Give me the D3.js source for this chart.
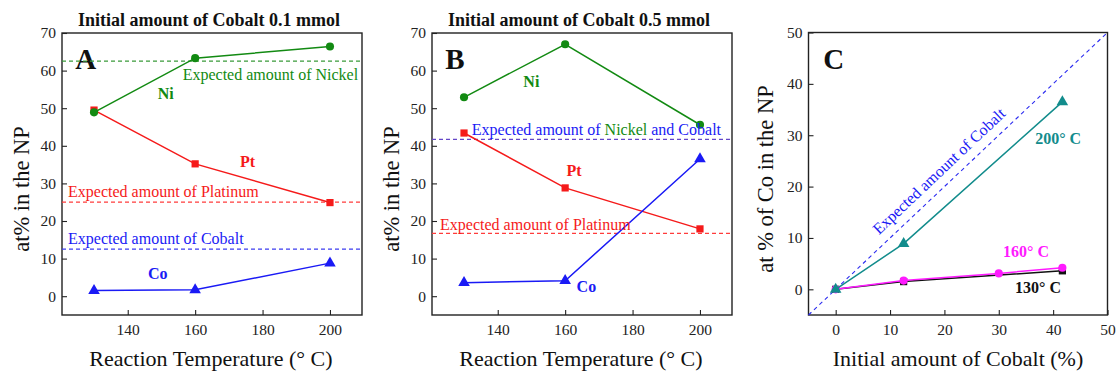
<!DOCTYPE html>
<html>
<head>
<meta charset="utf-8">
<script src="https://cdn.jsdelivr.net/npm/d3@7"></script>
<style>
  html, body { margin: 0; padding: 0; background: #fff; }
  svg { display: block; }
  svg text { font-family: "Liberation Serif", "Times New Roman", Times, "DejaVu Serif", serif; }
</style>
</head>
<body>
<svg id="chart" width="1116" height="372"></svg>
<script>
// Reaction temperatures (°C) for panels A and B
const temps = [130, 160, 200];

// Panel A: initial cobalt 0.1 mmol, composition (at%)
const niA = [48.9, 63.3, 66.4];
const ptA = [49.5, 35.2, 24.9];
const coA = [1.5, 1.7, 8.8];
const expNiA = 62.5, expPtA = 25, expCoA = 12.5;

// Panel B: initial cobalt 0.5 mmol, composition (at%)
const niB = [52.9, 67.0, 45.6];
const ptB = [43.4, 28.8, 17.9];
const coB = [3.6, 4.1, 36.5];
const expNiCoB = 41.7, expPtB = 16.7;

// Panel C: Co content vs initial cobalt fraction at each temperature
const init200 = [0, 12.5, 41.7];
const co200 = [0, 8.9, 36.5];
const init160 = [0, 12.5, 30, 41.7];
const co160 = [0, 1.7, 3.1, 4.2];
const init130 = [0, 12.5, 41.7];
const co130 = [0, 1.5, 3.6];

// Tick values
const tempMajor = [140, 160, 180, 200];
const tempMinor = [130, 150, 170, 190];
const atMajor = [0, 10, 20, 30, 40, 50, 60, 70];
const atMinor = [5, 15, 25, 35, 45, 55, 65];
const cMajor = [0, 10, 20, 30, 40, 50];
const cMinor = [5, 15, 25, 35, 45];

const GREEN = "#128a12", RED = "#f51a1a", BLUE = "#1a1af5",
      TEAL = "#128c8c", MAGENTA = "#ff1aff", BLACK = "#111";
const SERIF = '"Liberation Serif", "Times New Roman", Times, "DejaVu Serif", serif';

const svg = d3.select("#chart");

function axes(g, x, y, xMaj, xMin, yMaj, yMin) {
  const w = x.range()[1] - x.range()[0];
  const h = y.range()[0] - y.range()[1];
  const b = g.append("g").attr("transform", `translate(0,${y.range()[0]})`);
  b.call(d3.axisBottom(x).tickValues(xMin).tickSize(-3).tickFormat(""));
  b.call(d3.axisBottom(x).tickValues(xMaj).tickSize(-5).tickPadding(9).tickFormat(d3.format("d")));
  const l = g.append("g").attr("transform", `translate(${x.range()[0]},0)`);
  l.call(d3.axisLeft(y).tickValues(yMin).tickSize(-3).tickFormat(""));
  l.call(d3.axisLeft(y).tickValues(yMaj).tickSize(-5).tickPadding(6).tickFormat(d3.format("d")));
  g.selectAll(".domain").remove();
  g.selectAll("g").attr("font-family", SERIF);
  g.selectAll(".tick line").attr("stroke", "#222").attr("stroke-width", 1.1);
  g.selectAll(".tick text").attr("font-size", 15.5).attr("fill", "#222");
  g.append("rect").attr("x", x.range()[0]).attr("y", y.range()[1])
    .attr("width", w).attr("height", h)
    .attr("fill", "none").attr("stroke", "#222").attr("stroke-width", 1.4);
}

function series(g, x, y, xs, ys, color, shape) {
  const pts = xs.map((d, i) => [d, ys[i]]);
  g.append("path").datum(pts)
    .attr("d", d3.line().x(d => x(d[0])).y(d => y(d[1])))
    .attr("fill", "none").attr("stroke", color).attr("stroke-width", 1.5);
  const sym = shape === "circle" ? d3.symbolCircle : shape === "square" ? d3.symbolSquare : d3.symbolTriangle;
  const size = shape === "circle" ? 52 : shape === "square" ? 52 : 58;
  g.selectAll(null).data(pts).enter().append("path")
    .attr("d", d3.symbol().type(sym).size(size))
    .attr("transform", d => `translate(${x(d[0])},${y(d[1])})`)
    .attr("fill", color);
}

function hdash(g, x, y, v, color) {
  g.append("line")
    .attr("x1", x.range()[0]).attr("x2", x.range()[1])
    .attr("y1", y(v)).attr("y2", y(v))
    .attr("stroke", color).attr("stroke-width", 1.2).attr("stroke-dasharray", "4,3");
}

function label(g, x, y, xv, yv, text, color, size, bold, anchor) {
  return g.append("text").attr("x", x(xv)).attr("y", y(yv))
    .attr("font-family", SERIF)
    .attr("fill", color).attr("font-size", size)
    .attr("font-weight", bold ? "bold" : "normal")
    .attr("text-anchor", anchor || "start").text(text);
}

function yTitle(g, cx, cy, text) {
  g.append("text").attr("transform", `translate(${cx},${cy}) rotate(-90)`)
    .attr("font-family", SERIF)
    .attr("text-anchor", "middle").attr("font-size", 22.5).attr("fill", "#111").text(text);
}

function xTitle(g, cx, cy, text) {
  g.append("text").attr("x", cx).attr("y", cy)
    .attr("font-family", SERIF)
    .attr("text-anchor", "middle").attr("font-size", 22).attr("fill", "#111").text(text);
}

// ----- Panels A and B -----
function tempPanel(ox, title, letter) {
  const g = svg.append("g");
  const x = d3.scaleLinear().domain([120.5, 209.5]).range([ox + 62, ox + 362]);
  const y = d3.scaleLinear().domain([-5, 70]).range([315, 33]);
  axes(g, x, y, tempMajor, tempMinor, atMajor, atMinor);
  g.append("text").attr("x", ox + 209).attr("y", 26).attr("text-anchor", "middle")
    .attr("font-family", SERIF)
    .attr("font-size", 18).attr("font-weight", "bold").attr("fill", "#111").text(title);
  label(g, x, y, 124.4, 60.5, letter, "#111", 29, true);
  yTitle(g, ox + 28.5, 189, "at% in the NP");
  xTitle(g, ox + 211, 366, "Reaction Temperature (° C)");
  return { g, x, y };
}

const A = tempPanel(0, "Initial amount of Cobalt 0.1 mmol", "A");
hdash(A.g, A.x, A.y, expNiA, "#3a9a3a");
hdash(A.g, A.x, A.y, expPtA, "#ff3c3c");
hdash(A.g, A.x, A.y, expCoA, "#3c3cf0");
series(A.g, A.x, A.y, temps, ptA, RED, "square");
series(A.g, A.x, A.y, temps, niA, GREEN, "circle");
series(A.g, A.x, A.y, temps, coA, BLUE, "triangle");
label(A.g, A.x, A.y, 156.3, 57.6, "Expected amount of Nickel", GREEN, 16, false);
label(A.g, A.x, A.y, 148.9, 52.5, "Ni", GREEN, 16, true);
label(A.g, A.x, A.y, 173.3, 34.4, "Pt", RED, 16, true);
label(A.g, A.x, A.y, 122.3, 26.4, "Expected amount of Platinum", RED, 16, false);
label(A.g, A.x, A.y, 122.3, 13.9, "Expected amount of Cobalt", BLUE, 16, false);
label(A.g, A.x, A.y, 146, 4.6, "Co", BLUE, 16, true);

const B = tempPanel(370, "Initial amount of Cobalt 0.5 mmol", "B");
hdash(B.g, B.x, B.y, expNiCoB, "#6446c8");
hdash(B.g, B.x, B.y, expPtB, "#ff3c3c");
series(B.g, B.x, B.y, temps, niB, GREEN, "circle");
series(B.g, B.x, B.y, temps, ptB, RED, "square");
series(B.g, B.x, B.y, temps, coB, BLUE, "triangle");
label(B.g, B.x, B.y, 147.6, 55.7, "Ni", GREEN, 16, true);
const mix = label(B.g, B.x, B.y, 132.3, 42.9, "", BLUE, 16, false);
mix.append("tspan").attr("fill", BLUE).text("Expected amount of ");
mix.append("tspan").attr("fill", GREEN).text("Nickel");
mix.append("tspan").attr("fill", BLUE).text(" and Cobalt");
label(B.g, B.x, B.y, 160.4, 32.0, "Pt", RED, 16, true);
label(B.g, B.x, B.y, 122.9, 17.6, "Expected amount of Platinum", RED, 16, false);
label(B.g, B.x, B.y, 163.4, 1.1, "Co", BLUE, 16, true);

// ----- Panel C -----
const C = (() => {
  const g = svg.append("g");
  const x = d3.scaleLinear().domain([-5, 50]).range([808.5, 1107.5]);
  const y = d3.scaleLinear().domain([-5, 50]).range([315, 32.5]);
  axes(g, x, y, cMajor, cMinor, cMajor, cMinor);
  label(g, x, y, -2.3, 42.9, "C", "#111", 29, true);
  yTitle(g, 773, 179, "at % of Co in the NP");
  xTitle(g, 958, 366, "Initial amount of Cobalt (%)");
  return { g, x, y };
})();

// 1:1 line = expected cobalt content
C.g.append("line")
  .attr("x1", C.x(-5)).attr("y1", C.y(-5)).attr("x2", C.x(50)).attr("y2", C.y(50))
  .attr("stroke", "#2a2af0").attr("stroke-width", 1.1).attr("stroke-dasharray", "4,3.5");
const diagAngle = Math.atan2(C.y(0) - C.y(1), C.x(1) - C.x(0)) * 180 / Math.PI;
C.g.append("text")
  .attr("transform", `translate(${C.x(20.9)},${C.y(20.9)}) rotate(${-diagAngle})`)
  .attr("font-family", SERIF)
  .attr("dy", -9.5).attr("text-anchor", "middle")
  .attr("font-size", 16).attr("fill", BLUE).text("Expected amount of Cobalt");

series(C.g, C.x, C.y, init130, co130, BLACK, "square");
series(C.g, C.x, C.y, init160, co160, MAGENTA, "circle");
series(C.g, C.x, C.y, init200, co200, TEAL, "triangle");
label(C.g, C.x, C.y, 36.7, 28.3, "200° C", TEAL, 16, true);
label(C.g, C.x, C.y, 30.8, 6.3, "160° C", MAGENTA, 16, true);
label(C.g, C.x, C.y, 33.0, -0.7, "130° C", BLACK, 16, true);
</script>
</body>
</html>
